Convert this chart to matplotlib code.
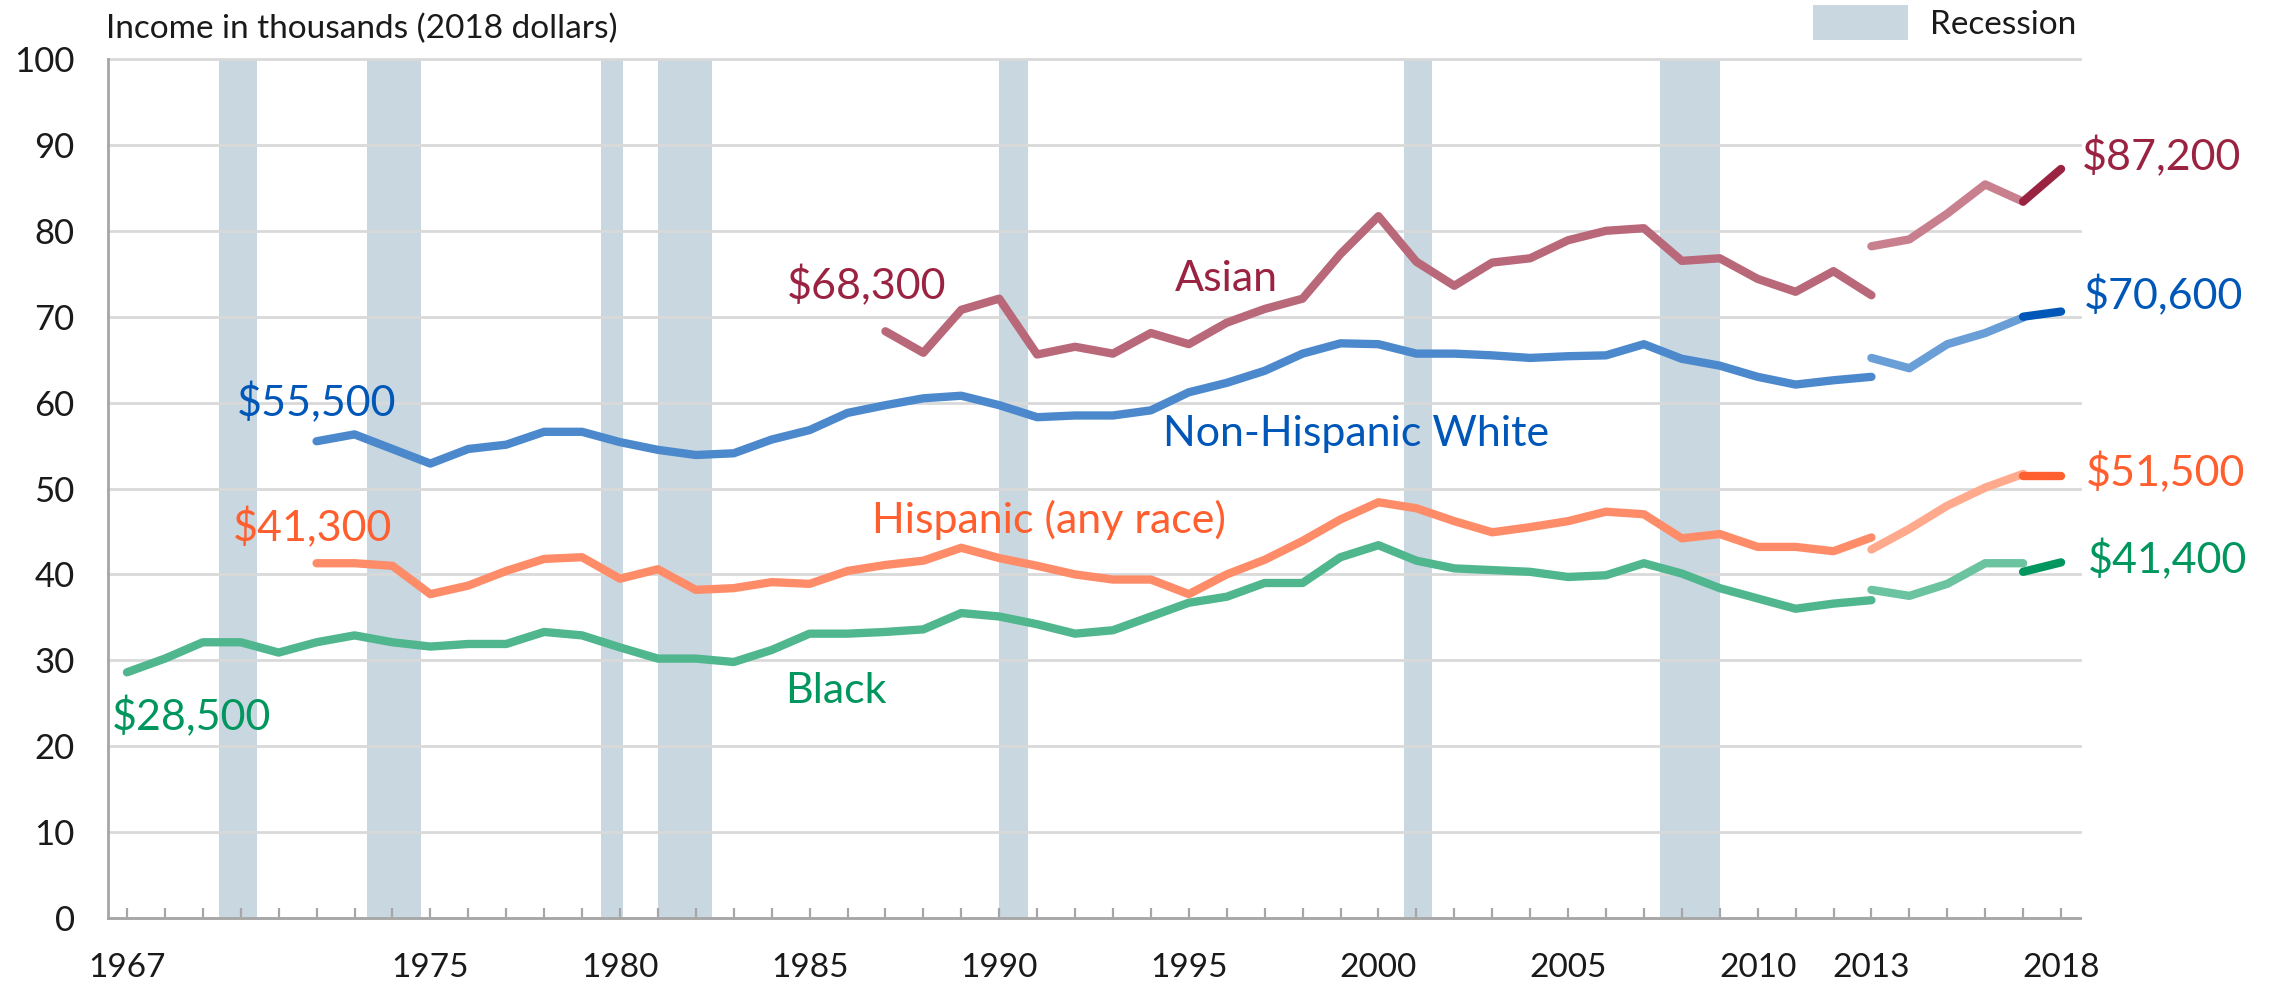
import matplotlib
matplotlib.use("Agg")
import matplotlib.pyplot as plt
from matplotlib.patches import Patch
import numpy as np

plt.rcParams['font.family'] = ['Lato', 'DejaVu Sans']

# ---------------- data (thousands of 2018 dollars) ----------------
years_main = list(range(1967, 2014))          # 1967 .. 2013 (old method)
years_mid = [2013, 2014, 2015, 2016, 2017]     # 2013 (new method) .. 2017 (old processing)
years_last = [2017, 2018]                      # 2017 (updated processing) .. 2018

black_main = [28.6, 30.2, 32.1, 32.1, 30.9, 32.1, 32.9, 32.1, 31.6, 31.9,
              31.9, 33.3, 32.9, 31.5, 30.2, 30.2, 29.8, 31.2, 33.1, 33.1,
              33.3, 33.6, 35.5, 35.1, 34.2, 33.1, 33.5, 35.1, 36.7, 37.4,
              39.0, 39.0, 42.0, 43.4, 41.6, 40.7, 40.5, 40.3, 39.7, 39.9,
              41.3, 40.1, 38.4, 37.2, 36.0, 36.6, 37.0]
black_mid = [38.2, 37.5, 38.9, 41.3, 41.3]
black_last = [40.3, 41.4]

white_years = list(range(1972, 2014))
white_main = [55.5, 56.3, 54.6, 52.9, 54.6, 55.1, 56.6, 56.6, 55.4, 54.5,
              53.9, 54.1, 55.7, 56.8, 58.8, 59.7, 60.5, 60.8, 59.7, 58.3,
              58.5, 58.5, 59.1, 61.2, 62.3, 63.7, 65.7, 66.9, 66.8, 65.7,
              65.7, 65.5, 65.2, 65.4, 65.5, 66.8, 65.1, 64.3, 63.0, 62.1,
              62.6, 63.0]
white_mid = [65.2, 64.0, 66.8, 68.1, 69.9]
white_last = [70.0, 70.6]

hisp_years = list(range(1972, 2014))
hisp_main = [41.3, 41.3, 41.0, 37.7, 38.7, 40.4, 41.8, 42.0, 39.5, 40.6,
             38.2, 38.4, 39.1, 38.9, 40.4, 41.1, 41.6, 43.1, 41.9, 41.0,
             40.0, 39.4, 39.4, 37.7, 40.0, 41.7, 43.9, 46.4, 48.4, 47.7,
             46.2, 44.9, 45.5, 46.2, 47.3, 47.0, 44.2, 44.7, 43.2, 43.2,
             42.7, 44.3]
hisp_mid = [42.9, 45.3, 48.0, 50.1, 51.7]
hisp_last = [51.5, 51.5]

asian_years = list(range(1987, 2014))
asian_main = [68.3, 65.8, 70.8, 72.1, 65.6, 66.5, 65.7, 68.1, 66.8, 69.3,
              70.9, 72.1, 77.3, 81.7, 76.4, 73.6, 76.3, 76.8, 78.9, 80.0,
              80.3, 76.5, 76.8, 74.4, 72.9, 75.3, 72.5]
asian_mid = [78.2, 79.0, 82.0, 85.4, 83.4]
asian_last = [83.4, 87.2]

# NBER recessions: (start year, start month, end year, end month)
rec_start_year = [1969, 1973, 1980, 1981, 1990, 2001, 2007]
rec_start_month = [12, 11, 1, 7, 7, 3, 12]
rec_end_year = [1970, 1975, 1980, 1982, 1991, 2001, 2009]
rec_end_month = [11, 3, 7, 11, 3, 11, 6]

tick_label_years = [1967, 1975, 1980, 1985, 1990, 1995, 2000, 2005, 2010, 2013, 2018]
y_ticks = [0, 10, 20, 30, 40, 50, 60, 70, 80, 90, 100]

# ---------------- styling ----------------
REC_COLOR = '#C9D7E1'
GRID_COLOR = '#D9D9D9'
SPINE_COLOR = '#A6A6A6'
LW = 6.0

series = [
    # years_main, main, mid, last, colors (main, mid, last)
    (years_main, black_main, black_mid, black_last, ('#50B68E', '#6CC3A0', '#00965E')),
    (hisp_years, hisp_main, hisp_mid, hisp_last, ('#FF8C69', '#FFA98D', '#FF5E2E')),
    (white_years, white_main, white_mid, white_last, ('#4C89CC', '#699ED7', '#0057B7')),
    (asian_years, asian_main, asian_mid, asian_last, ('#B9687A', '#C8808E', '#9B2342')),
]

fig = plt.figure(figsize=(22.8, 9.84), dpi=100)
ax = fig.add_axes([108 / 2280, 1 - 918 / 984, (2080 - 108) / 2280, (918 - 59) / 984])

# recession bands (annual points plotted at mid-year convention)
for sy, sm, ey, em in zip(rec_start_year, rec_start_month, rec_end_year, rec_end_month):
    x0 = sy + (sm - 1) / 12 - 0.5
    x1 = ey + em / 12 - 0.5
    ax.axvspan(x0, x1, color=REC_COLOR, lw=0, zorder=1)

for yrs, main, mid, last, cols in series:
    ax.plot(yrs, main, color=cols[0], lw=LW, solid_capstyle='round',
            solid_joinstyle='round', zorder=3)
    ax.plot(years_mid, mid, color=cols[1], lw=LW, solid_capstyle='round',
            solid_joinstyle='round', zorder=3)
    ax.plot(years_last, last, color=cols[2], lw=LW, solid_capstyle='round',
            solid_joinstyle='round', zorder=4)

ax.set_xlim(1966.5, 2018.5)
ax.set_ylim(0, 100)

ax.set_yticks(y_ticks)
ax.set_yticklabels([str(v) for v in y_ticks])
ax.yaxis.grid(True, color=GRID_COLOR, lw=2.0, zorder=1.5)
for gl in ax.get_ygridlines():
    gl.set_clip_on(False)
ax.tick_params(axis='y', length=0, pad=24, labelsize=25, labelcolor='#1a1a1a')

all_years = list(range(1967, 2019))
ax.set_xticks(all_years)
ax.set_xticklabels([str(y) if y in tick_label_years else '' for y in all_years])
ax.tick_params(axis='x', direction='in', length=7, width=1.6, color=SPINE_COLOR,
               pad=25, labelsize=24, labelcolor='#1a1a1a')

for s in ['top', 'right']:
    ax.spines[s].set_visible(False)
for s in ['left', 'bottom']:
    ax.spines[s].set_color(SPINE_COLOR)
    ax.spines[s].set_linewidth(2.0)
ax.spines['bottom'].set_zorder(5)

# axis title
fig.text(106 / 2280, 1 - 29 / 984, 'Income in thousands (2018 dollars)', fontsize=24,
         color='#1a1a1a', ha='left', va='center')

# legend
leg = fig.legend(handles=[Patch(facecolor=REC_COLOR, edgecolor='none', label='Recession')],
                 loc='upper left', bbox_to_anchor=(1813 / 2280, 1 - 5 / 984),
                 frameon=False, fontsize=24, handlelength=2.85, handleheight=1.25,
                 handletextpad=0.65, borderpad=0, borderaxespad=0)
for t in leg.get_texts():
    t.set_color('#1a1a1a')

# series labels
FS = 31
lab = dict(fontsize=FS, va='center', clip_on=False)
ax.text(1986.5, 73.6, '$68,300', color='#9B2342', ha='center', **lab)
ax.text(1996.0, 74.4, 'Asian', color='#9B2342', ha='center', **lab)
ax.text(2018.56, 88.6, '$87,200', color='#9B2342', ha='left', **lab)

ax.text(1972.0, 60.0, '$55,500', color='#0057B7', ha='center', **lab)
ax.text(1999.4, 56.4, 'Non-Hispanic White', color='#0057B7', ha='center', **lab)
ax.text(2018.6, 72.5, '$70,600', color='#0057B7', ha='left', **lab)

ax.text(1971.9, 45.4, '$41,300', color='#FF5E2E', ha='center', **lab)
ax.text(1991.3, 46.4, 'Hispanic (any race)', color='#FF5E2E', ha='center', **lab)
ax.text(2018.65, 51.8, '$51,500', color='#FF5E2E', ha='left', **lab)

ax.text(1968.7, 23.4, '$28,500', color='#00965E', ha='center', **lab)
ax.text(1985.7, 26.4, 'Black', color='#00965E', ha='center', **lab)
ax.text(2018.7, 41.7, '$41,400', color='#00965E', ha='left', **lab)

fig.savefig('out.png', dpi=100)
